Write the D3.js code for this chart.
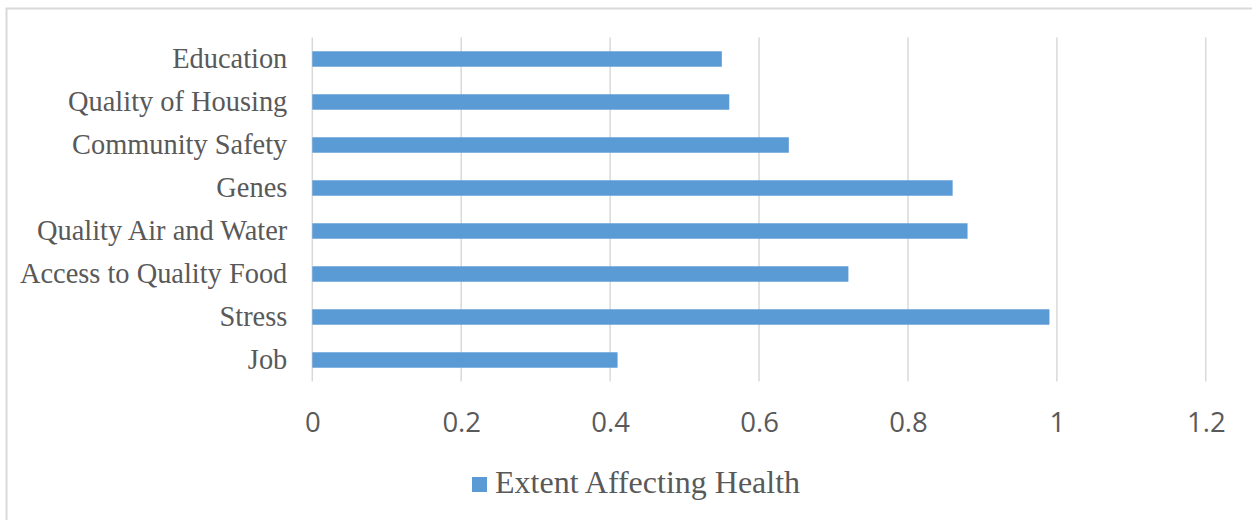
<!DOCTYPE html>
<html>
<head>
<meta charset="utf-8">
<script src="https://cdn.jsdelivr.net/npm/d3@7"></script>
<style>
  html, body { margin: 0; padding: 0; background: #fff; }
  svg { display: block; }
</style>
</head>
<body>
<svg id="chart" width="1252" height="520"></svg>
<script>
// Factors and how strongly each affects health
const categories = ["Education", "Quality of Housing", "Community Safety", "Genes",
  "Quality Air and Water", "Access to Quality Food", "Stress", "Job"];
const values = [0.55, 0.56, 0.64, 0.86, 0.88, 0.72, 0.99, 0.41];
const tickValues = [0, 0.2, 0.4, 0.6, 0.8, 1, 1.2];
const seriesName = "Extent Affecting Health";

const svg = d3.select("#chart");
const barColor = "#5b9bd5";
const gridColor = "#d9d9d9";
const textColor = "#595959";

// Outer chart frame
svg.append("rect")
  .attr("x", 6.5).attr("y", 8.5)
  .attr("width", 1260).attr("height", 520)
  .attr("fill", "#fff")
  .attr("stroke", gridColor).attr("stroke-width", 2);

const plotLeft = 312.3, plotRight = 1205.8, plotTop = 37.5, plotBottom = 381.5;

const x = d3.scaleLinear().domain([0, 1.2]).range([plotLeft, plotRight]);
const y = d3.scaleBand().domain(categories).range([plotTop, plotBottom])
  .paddingInner(0.64).paddingOuter(0.32);

// Vertical gridlines
svg.append("g")
  .selectAll("line")
  .data(tickValues)
  .join("line")
  .attr("x1", d => x(d)).attr("x2", d => x(d))
  .attr("y1", plotTop).attr("y2", plotBottom)
  .attr("stroke", gridColor).attr("stroke-width", 1.5);

// Bars
svg.append("g")
  .selectAll("rect")
  .data(categories)
  .join("rect")
  .attr("x", x(0))
  .attr("y", d => y(d))
  .attr("width", (d, i) => x(values[i]) - x(0))
  .attr("height", y.bandwidth())
  .attr("fill", barColor);

// Category labels
const yAxis = d3.axisLeft(y).tickSize(0).tickPadding(25);
const gy = svg.append("g").attr("transform", `translate(${plotLeft},0)`).call(yAxis);
gy.select(".domain").remove();
gy.selectAll("text")
  .attr("fill", textColor)
  .style("font-family", "'Liberation Serif', 'Times New Roman', serif")
  .style("font-size", "28.4px")
  .attr("dy", "0.33em");

// Value axis labels
const xAxis = d3.axisBottom(x).tickValues(tickValues).tickSize(0).tickPadding(0)
  .tickFormat(d => String(d));
const gx = svg.append("g").attr("transform", `translate(0,${plotBottom})`).call(xAxis);
gx.select(".domain").remove();
gx.selectAll("text")
  .attr("fill", textColor)
  .attr("y", 50.5)
  .attr("dy", 0)
  .style("font-family", "'Open Sans', 'Noto Sans', sans-serif")
  .style("font-size", "27.5px");

// Legend
const legend = svg.append("g");
legend.append("rect")
  .attr("x", 472).attr("y", 477)
  .attr("width", 15).attr("height", 15)
  .attr("fill", barColor);
legend.append("text")
  .attr("x", 495).attr("y", 493)
  .attr("fill", textColor)
  .style("font-family", "'Liberation Serif', 'Times New Roman', serif")
  .style("font-size", "32px")
  .text(seriesName);
</script>
</body>
</html>
